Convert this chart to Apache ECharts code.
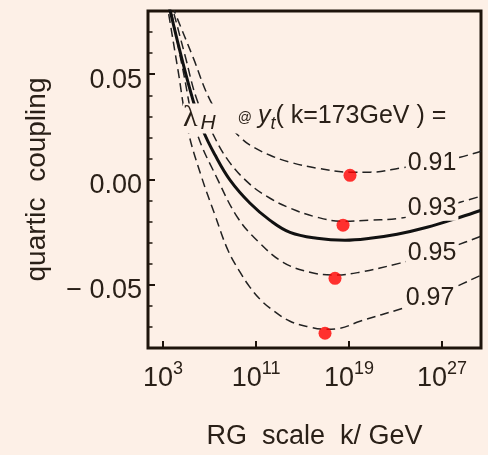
<!DOCTYPE html>
<html>
<head>
<meta charset="utf-8">
<script src="https://cdn.jsdelivr.net/npm/echarts@6/dist/echarts.min.js"></script>
<style>
  html, body { margin: 0; padding: 0; background: #fdf0e7; }
  #chart_1 { width: 488px; height: 455px; }
</style>
</head>
<body>
<div id="chart_1"></div>
<script>
// x = log10(k / GeV), y = lambda_H
var curve091 = [[3.77,0.0828],[4.11,0.0780],[5.57,0.0581],[7.04,0.0377],[8.33,0.0277],[9.62,0.0201],[10.48,0.0163],[12.2,0.0115],[13.92,0.0082],[16.24,0.0054],[19.08,0.0035],[20.81,0.0035],[23.39,0.0054],[26.83,0.0087],[28.55,0.0106],[30.36,0.0134]];
var curve093 = [[3.59,0.0851],[3.85,0.0804],[4.88,0.0590],[5.92,0.0377],[7.12,0.0234],[8.58,0.0092],[10.48,-0.0023],[12.2,-0.0089],[13.92,-0.0136],[16.24,-0.0179],[18.48,-0.0198],[20.81,-0.0193],[23.39,-0.0184],[25.97,-0.0150],[28.55,-0.0108],[30.36,-0.0079]];
var curve095 = [[3.42,0.0851],[3.68,0.0804],[4.71,0.0519],[5.83,0.0234],[7.72,-0.0003],[9.45,-0.0184],[11.17,-0.0294],[13.32,-0.0393],[15.64,-0.0440],[17.79,-0.0454],[19.94,-0.0440],[23.39,-0.0397],[25.97,-0.0359],[28.29,-0.0312],[30.36,-0.0269]];
var curve097 = [[3.25,0.0851],[3.42,0.0804],[4.28,0.0519],[5.14,0.0234],[6.26,0.0020],[7.47,-0.0170],[8.58,-0.0336],[9.62,-0.0440],[10.48,-0.0512],[11.34,-0.0569],[12.2,-0.0611],[13.92,-0.0673],[15.64,-0.0701],[16.93,-0.0711],[18.22,-0.0706],[19.94,-0.0673],[23.64,-0.0611],[25.97,-0.0568],[27.95,-0.0516],[30.36,-0.0454]];
var curveMain = [[2.96,0.0946],[3.59,0.0804],[4.54,0.0589],[5.57,0.0377],[6.43,0.0234],[7.47,0.0116],[8.76,-0.0003],[10.48,-0.0113],[12.2,-0.0194],[13.92,-0.0251],[16.24,-0.0279],[18.65,-0.0288],[20.81,-0.0279],[23.13,-0.0260],[25.71,-0.0227],[28.55,-0.0179],[30.36,-0.0146]];
var minima = [[19.08,0.0020],[18.48,-0.0217],[17.79,-0.0469],[16.93,-0.0730]];
var ytLabels = ['0.91','0.93','0.95','0.97'];
var ytLabelAt = [[26.14,0.0077],[26.14,-0.0136],[26.14,-0.0350],[25.97,-0.0564]];
var xTicks = [3, 11, 19, 27];
var yTicks = [-0.05, 0, 0.05];
var yMinor = [-0.08,-0.07,-0.06,-0.04,-0.03,-0.02,-0.01,0.01,0.02,0.03,0.04,0.06,0.07,0.08];

var bg = '#fdf0e7';
var ink = '#2a2018';
var frame = '#1e140c';
var font = "'Liberation Sans', Arial, sans-serif";

var myChart = echarts.init(document.getElementById('chart_1'));

function dashed(data, idx) {
    return {
        type: 'line',
        data: data,
        smooth: 0.4,
        showSymbol: false,
        symbol: 'none',
        silent: true,
        lineStyle: { color: '#222', width: 1.5, type: [9, 5] },
        markPoint: {
            symbol: 'circle',
            symbolSize: 0,
            data: [{ coord: ytLabelAt[idx], name: ytLabels[idx] }],
            label: {
                show: true, position: 'inside', formatter: '{b}',
                fontFamily: font, fontSize: 25, color: ink,
                backgroundColor: bg, padding: [0, 2]
            }
        }
    };
}

myChart.setOption({
    backgroundColor: bg,
    animation: false,
    grid: {
        left: 148, right: 7, top: 11, bottom: 107,
        show: true, borderColor: frame, borderWidth: 3
    },
    xAxis: {
        type: 'value',
        min: 1.7,
        max: 30.35,
        name: 'RG  scale  k/ GeV',
        nameLocation: 'middle',
        nameGap: 75,
        nameTextStyle: { fontFamily: font, fontSize: 27, color: ink },
        axisLine: { show: false, onZero: false },
        splitLine: { show: false },
        axisTick: {
            show: true, inside: true, length: 7, customValues: xTicks,
            lineStyle: { color: frame, width: 2 }
        },
        axisLabel: {
            customValues: xTicks,
            margin: 12,
            formatter: function (v) { return '{b|10}{s|' + v + '}'; },
            rich: {
                b: { fontFamily: font, fontSize: 27, color: ink, lineHeight: 38 },
                s: { fontFamily: font, fontSize: 18, color: ink, lineHeight: 18, verticalAlign: 'top' }
            }
        }
    },
    yAxis: [{
        type: 'value',
        min: -0.08,
        max: 0.08,
        name: 'quartic  coupling',
        nameLocation: 'middle',
        nameGap: 97,
        nameTextStyle: { fontFamily: font, fontSize: 28, color: ink },
        axisLine: { show: false, onZero: false },
        splitLine: { show: false },
        axisTick: {
            show: true, inside: true, length: 7, customValues: yTicks,
            lineStyle: { color: frame, width: 2 }
        },
        axisLabel: {
            customValues: yTicks,
            margin: 6,
            verticalAlign: 'top',
            lineHeight: 12,
            fontFamily: font, fontSize: 27, color: ink,
            formatter: function (v) {
                return v < 0 ? '\u2212 ' + Math.abs(v).toFixed(2) : Math.abs(v).toFixed(2);
            }
        }
    }, {
        type: 'value',
        min: -0.08,
        max: 0.08,
        position: 'left',
        axisLine: { show: false, onZero: false },
        splitLine: { show: false },
        axisLabel: { show: false },
        axisTick: {
            show: true, inside: true, length: 4.5, customValues: yMinor,
            lineStyle: { color: frame, width: 1.5 }
        }
    }],
    series: [
        dashed(curve091, 0),
        dashed(curve093, 1),
        dashed(curve095, 2),
        dashed(curve097, 3),
        {
            type: 'line',
            data: curveMain,
            smooth: 0.4,
            showSymbol: false,
            symbol: 'none',
            silent: true,
            lineStyle: { color: '#111', width: 3 },
            markPoint: {
                symbol: 'circle',
                symbolSize: 0,
                data: [{ coord: [4.71, 0.029], name: 'lam' }],
                label: {
                    show: true, position: 'right', distance: 0,
                    backgroundColor: bg, padding: [0, 2, 0, 0],
                    formatter: '{l|\u03bb}{h|H}{a|@}{y|y}{t|t}{m|( k=173GeV ) =}',
                    rich: {
                        l: { fontFamily: "'Liberation Serif', serif", fontSize: 30, color: ink, lineHeight: 28, verticalAlign: 'top' },
                        h: { fontFamily: font, fontStyle: 'italic', fontSize: 21, color: ink, lineHeight: 20, verticalAlign: 'bottom', padding: [0, 0, 0, 3] },
                        a: { fontFamily: font, fontSize: 14, color: ink, lineHeight: 30, padding: [0, 6, 0, 22] },
                        y: { fontFamily: font, fontStyle: 'italic', fontSize: 25, color: ink, lineHeight: 28, verticalAlign: 'top' },
                        t: { fontFamily: font, fontStyle: 'italic', fontSize: 18, color: ink, lineHeight: 20, verticalAlign: 'bottom' },
                        m: { fontFamily: font, fontSize: 25, color: ink, lineHeight: 28, verticalAlign: 'top' }
                    }
                }
            }
        },
        {
            type: 'scatter',
            data: minima,
            symbol: 'circle',
            symbolSize: 13,
            silent: true,
            itemStyle: { color: '#ff0000' },
            z: 4
        }
    ]
});
</script>
</body>
</html>
